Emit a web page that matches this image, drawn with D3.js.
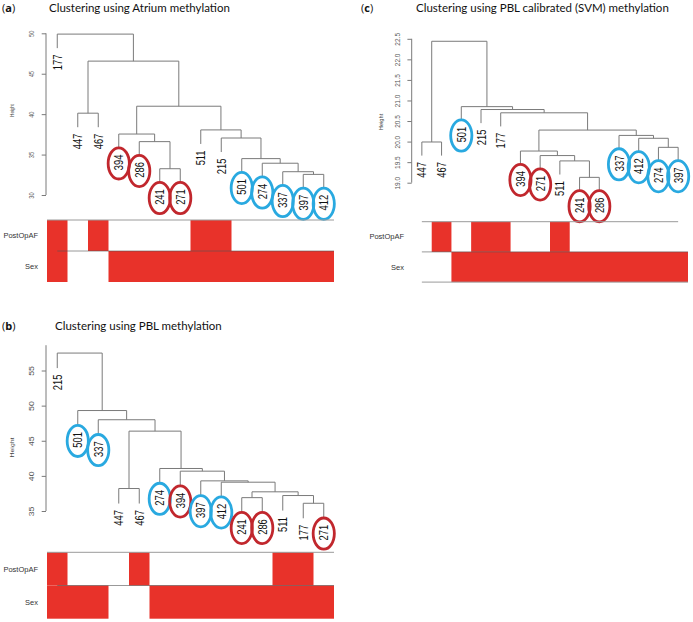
<!DOCTYPE html>
<html><head><meta charset="utf-8">
<script src="https://cdn.jsdelivr.net/npm/d3@7"></script>
<style>body{margin:0;background:#fff}</style>
</head><body>
<svg id="chart" width="693" height="622"></svg>
<script>
// ---------- DATA ----------
const samples   = ["177","215","241","271","274","286","337","394","397","412","447","467","501","511"];
const postOpAF  = [ 1,    1,    0,    0,    0,    0,    0,    0,    0,    0,    0,    1,    0,    1  ];
const sex       = [ 1,    1,    1,    1,    1,    1,    1,    1,    1,    1,    0,    0,    1,    1  ];
const circled   = ["",   "",   "red","red","blue","red","blue","red","blue","blue","",  "",   "blue",""];

// merges: [left, right, height]; strings = samples, numbers = earlier merge index
const mergesA = [
  ["447","467",40.12], ["241","271",33.25], ["286",1,36.6], ["394",2,37.54],
  ["397","412",32.55], ["337",4,32.88], ["274",5,33.93], ["501",6,34.5],
  ["215",7,37.05], ["511",8,38.05], [3,9,40.98], [0,10,46.56], ["177",11,49.9]
];
const mergesB = [
  ["447","467",38.2], ["177","271",36.1], ["511",1,37.2], ["241","286",36.9],
  [3,2,37.73], ["412",4,39.1], ["397",5,39.29], ["394",6,40.67],
  ["274",7,41.05], [0,8,46.37], ["337",9,47.99], ["501",10,49.3], ["215",11,57.48]
];
const mergesC = [
  ["447","467",19.99], ["241","286",19.13], ["511",1,19.53], ["271",2,19.66],
  ["394",3,19.77], ["274","397",19.86], ["412",5,20.08], ["337",6,20.15],
  [4,7,20.28], ["177",8,20.7], ["215",9,20.78], ["501",10,20.85], [0,11,22.44]
];
const ticksA = [30,35,40,45,50];
const ticksB = [35,40,45,50,55];
const ticksC = [19.0,19.5,20.0,20.5,21.0,21.5,22.0,22.5];
const tickLabelsA = ["30","35","40","45","50"];
const tickLabelsB = ["35","40","45","50","55"];
const tickLabelsC = ["19.0","19.5","20.0","20.5","21.0","21.5","22.0","22.5"];
const rowNames = ["PostOpAF","Sex"];

// ---------- LAYOUT ----------
const panels = [
  {letter:"a", title:"Clustering using Atrium methylation", merges:mergesA, ticks:ticksA, tickLabels:tickLabelsA,
   x0:47, x1:334, yDomain:[30,50], yRange:[195,33.3], axisTop:50, axisX:46, tickLabelX:31.5, tickFs:6.3, tickK:0.9,
   heightX:12.2, heightY:110.5, heightK:0.72, titleX:49, titleY:11.5, letterX:2,
   barTop:220, rowH:31, rowLabelX:38, topLineFromEdge:true, bottomLine:false},
  {letter:"b", title:"Clustering using PBL methylation", merges:mergesB, ticks:ticksB, tickLabels:tickLabelsB,
   x0:47, x1:334, yDomain:[35,55], yRange:[511,370.5], axisTop:58.6, axisX:46, tickLabelX:31.8, tickFs:7, tickK:1.25,
   heightX:12.2, heightY:447.5, heightK:1.15, titleX:55, titleY:330, letterX:2,
   barTop:552.3, rowH:33.2, rowLabelX:38, topLineFromEdge:true, bottomLine:false},
  {letter:"c", title:"Clustering using PBL calibrated (SVM) methylation", merges:mergesC, ticks:ticksC, tickLabels:tickLabelsC,
   x0:412, x1:688, yDomain:[19,22.5], yRange:[182.7,38.8], axisTop:22.5, axisX:411.7, tickLabelX:397.5, tickFs:6.5, tickK:1.0,
   heightX:380.5, heightY:122, heightK:0.95, titleX:416, titleY:11.5, letterX:361,
   barTop:221.7, rowH:30.2, rowLabelX:404, topLineFromEdge:false, bottomLine:true}
];

const svg = d3.select("#chart");
const LINE = "#7a7a7a", BAR = "#e8322a";
const ringColor = {red:"#c1272d", blue:"#29a9e0"};
const labelFs = 12.5, labelK = 0.75, labelGap = 6.5;

function rotText(g, x, y, txt, fs, k, anchor, color){
  return g.append("text")
    .attr("transform", `translate(${x},${y}) scale(1,${k}) rotate(-90)`)
    .attr("text-anchor", anchor).attr("dy","0.36em")
    .style("font-family","'Liberation Sans', Arial, sans-serif")
    .style("font-size", fs+"px").attr("fill", color).text(txt);
}

panels.forEach(p => {
  const g = svg.append("g");
  const M = p.merges, rootIdx = M.length - 1;
  const order = r => typeof r === "string" ? [r] : order(M[r][0]).concat(order(M[r][1]));
  const leaves = order(rootIdx);
  const x = d3.scaleBand().domain(leaves).range([p.x0, p.x1]).padding(0);
  const bw = x.bandwidth();
  const cx = l => x(l) + bw/2;
  const y = d3.scaleLinear().domain(p.yDomain).range(p.yRange);
  const hs = M.map(m => m[2]);
  const hang = 0.1 * (d3.max(hs) - d3.min(hs));
  const leafEnds = [];

  // title
  const t = g.append("text").attr("x", p.letterX).attr("y", p.titleY)
    .style("font-family","'Open Sans', sans-serif").style("font-size","11px").attr("fill","#111");
  t.append("tspan").text("(");
  t.append("tspan").style("font-weight","bold").text(p.letter);
  t.append("tspan").text(")");
  g.append("text").attr("x", p.titleX).attr("y", p.titleY)
    .style("font-family","Lato, sans-serif").style("font-size","11.5px").attr("fill","#111").text(p.title);

  // dendrogram
  const dg = g.append("g").attr("fill","none").attr("stroke",LINE).attr("stroke-width",1);
  function pos(r, parentH){
    if (typeof r === "string"){
      const e = {label:r, x:cx(r), h:parentH - hang};
      leafEnds.push(e);
      return e;
    }
    const m = M[r];
    const a = pos(m[0], m[2]), b = pos(m[1], m[2]);
    dg.append("path").attr("d",
      `M${a.x},${y(a.h)}V${y(m[2])}H${b.x}V${y(b.h)}`);
    return {x:(a.x+b.x)/2, h:m[2]};
  }
  pos(rootIdx, null);

  // rings
  leafEnds.forEach(e => {
    const c = circled[samples.indexOf(e.label)];
    if (!c) return;
    const lc = y(e.h) + labelGap + labelFs*1.668*labelK/2 + 1;
    g.append("ellipse").attr("cx", e.x).attr("cy", lc).attr("rx", 10.6).attr("ry", 15.6)
      .attr("fill","none").attr("stroke", ringColor[c]).attr("stroke-width", 2.8);
  });
  // leaf labels
  leafEnds.forEach(e => {
    rotText(g, e.x, y(e.h) + labelGap, e.label, labelFs, labelK, "end", "#111");
  });

  // axis
  const ax = g.append("g").attr("transform", `translate(${p.axisX},0)`)
    .call(d3.axisLeft(y).tickValues(p.ticks).tickSize(4.3).tickSizeOuter(0)
      .tickFormat((d,i) => p.tickLabels[i]));
  ax.select(".domain").remove();
  ax.selectAll("line").attr("stroke", LINE);
  ax.append("line").attr("x1",0).attr("x2",0)
    .attr("y1", y(d3.min(p.ticks))).attr("y2", y(p.axisTop)).attr("stroke", LINE);
  ax.selectAll(".tick text").attr("x", null).attr("dy","0.36em")
    .attr("text-anchor","middle").attr("fill","#555")
    .style("font-family","'Liberation Sans', Arial, sans-serif").style("font-size", p.tickFs+"px")
    .attr("transform", `translate(${p.tickLabelX - p.axisX},0) scale(1,${p.tickK}) rotate(-90)`);
  rotText(g, p.heightX, p.heightY, "Height", 6, p.heightK, "middle", "#444");

  // colored bars (consecutive cells merged into runs)
  const rows = [postOpAF, sex];
  rows.forEach((vals, ri) => {
    const top = p.barTop + ri * p.rowH;
    let runStart = null;
    leaves.forEach((l, i) => {
      const on = vals[samples.indexOf(l)] === 1;
      if (on && runStart === null) runStart = i;
      const last = i === leaves.length - 1;
      const nextOn = !last && vals[samples.indexOf(leaves[i+1])] === 1;
      if (on && !nextOn) {
        g.append("rect").attr("x", x(leaves[runStart])).attr("y", top)
          .attr("width", x(l) + bw - x(leaves[runStart])).attr("height", p.rowH)
          .attr("fill", BAR);
        runStart = null;
      }
    });
    g.append("text").attr("x", p.rowLabelX).attr("y", top + p.rowH/2).attr("dy","0.35em")
      .attr("text-anchor","end").attr("fill","#333")
      .style("font-family","'Liberation Sans', Arial, sans-serif").style("font-size","7.5px")
      .text(rowNames[ri]);
  });
  const firstC = cx(leaves[0]), lastC = cx(leaves[leaves.length-1]);
  g.append("line").attr("x1", p.topLineFromEdge ? p.x0 : firstC).attr("x2", p.topLineFromEdge ? p.x1 : lastC)
    .attr("y1", p.barTop).attr("y2", p.barTop).attr("stroke","#9a9a9a").attr("stroke-width",1);
  g.append("line").attr("x1", firstC).attr("x2", p.x1)
    .attr("y1", p.barTop + p.rowH).attr("y2", p.barTop + p.rowH).attr("stroke","#555").attr("stroke-width",1).attr("stroke-opacity",0.6);
  if (p.bottomLine) {
    g.append("line").attr("x1", firstC).attr("x2", p.x1)
      .attr("y1", p.barTop + 2*p.rowH).attr("y2", p.barTop + 2*p.rowH).attr("stroke","#9a9a9a").attr("stroke-width",1);
  }
});
</script>
</body></html>
